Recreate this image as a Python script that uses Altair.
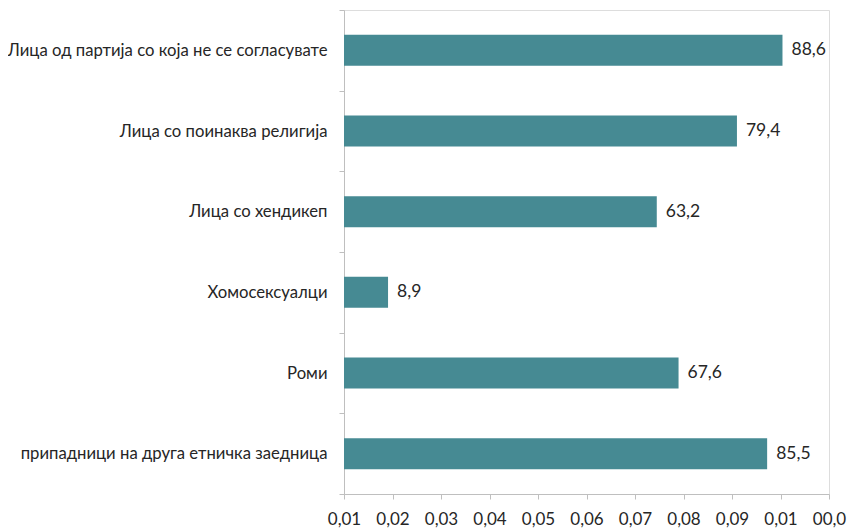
import altair as alt
import pandas as pd

categories = [
    "Лица од партија со која не се согласувате",
    "Лица со поинаква религија",
    "Лица со хендикеп",
    "Хомосексуалци",
    "Роми",
    "припадници на друга етничка заедница",
]
values = [88.6, 79.4, 63.2, 8.9, 67.6, 85.5]

x_tick_values = [0, 9.8, 19.6, 29.4, 39.2, 49.0, 58.8, 68.6, 78.4, 88.2, 98.0]
x_tick_labels = ["0,01", "0,02", "0,03", "0,04", "0,05", "0,06", "0,07", "0,08", "0,09", "0,01", "00,0"]

df = pd.DataFrame({
    "cat": categories,
    "val": values,
    "lbl": [f"{v:.1f}".replace(".", ",") for v in values],
})

label_arr = "[" + ",".join(f"'{s}'" for s in x_tick_labels) + "]"
label_expr = f"{label_arr}[round(datum.value / 9.8)]"

FONT = "Lato"
TEXT = "#262626"
GRID = "#BFBFBF"

x = alt.X(
    "val:Q",
    scale=alt.Scale(domain=[0, 98], nice=False, zero=True),
    axis=alt.Axis(
        title=None, values=x_tick_values, labelExpr=label_expr, grid=False,
        domainColor=GRID, tickColor=GRID, tickSize=5, labelPadding=12,
        labelFont=FONT, labelFontSize=17, labelColor=TEXT, labelFlush=False,
        labelOverlap=False,
    ),
)
y = alt.Y(
    "cat:N", sort=categories,
    scale=alt.Scale(paddingInner=0, paddingOuter=0),
    axis=alt.Axis(
        title=None, tickBand="extent", domainColor=GRID, tickColor=GRID,
        tickSize=5, labelPadding=12, labelFont=FONT, labelFontSize=16.7,
        labelColor=TEXT, labelLimit=400,
    ),
)

bars = alt.Chart(df).mark_bar(size=31, color="#468A93").encode(x=x, y=y)
texts = alt.Chart(df).mark_text(
    align="left", baseline="middle", dx=9, font=FONT, fontSize=17.5, color=TEXT
).encode(x="val:Q", y=alt.Y("cat:N", sort=categories), text="lbl:N")

chart = (bars + texts).properties(
    width=485, height=484,
    autosize=alt.AutoSizeParams(type="none"),
    padding={"left": 336, "top": 2, "right": 22, "bottom": 36},
).configure_view(stroke=None).configure(background="white")

chart.save("out.html", embed_options={"renderer": "svg", "actions": False})
